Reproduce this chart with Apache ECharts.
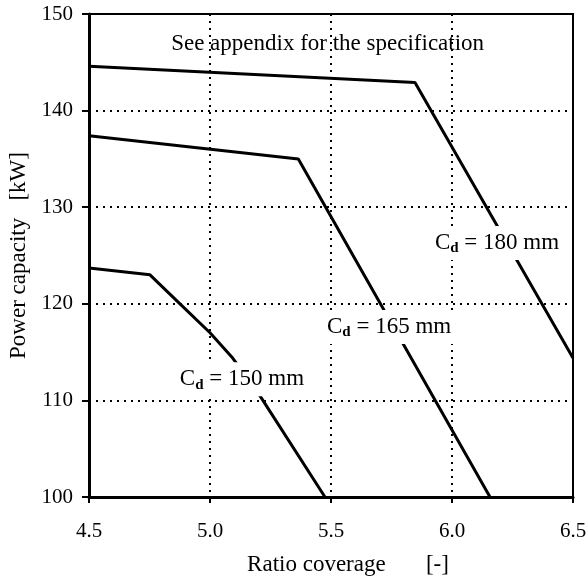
<!DOCTYPE html>
<html>
<head>
<meta charset="utf-8">
<script src="https://cdn.jsdelivr.net/npm/echarts@6/dist/echarts.min.js"></script>
<style>html,body{margin:0;padding:0;background:#fff}#c{width:588px;height:576px}</style>
</head>
<body>
<div id="c"></div>
<script>
// Data
const cd180X = [4.5, 5.847, 6.5];
const cd180Y = [144.6, 142.9, 114.4];
const cd165X = [4.5, 5.365, 6.157];
const cd165Y = [137.4, 135.0, 100];
const cd150X = [4.5, 4.752, 4.876, 5.0, 5.09, 5.198, 5.475];
const cd150Y = [123.7, 123.0, 120.0, 117.0, 114.5, 110.8, 100];
const seriesNames = ['180', '165', '150'];
const labelCoords = [[6.186, 126.3], [5.74, 117.6], [5.132, 112.2]];
const noteText = 'See appendix for the specification';
const noteCoord = [5.486, 146.9];
const xTitle = 'Ratio coverage       [-]';
const yTitle = 'Power capacity   [kW]';

const FONT = 'Liberation Serif';
const zip = (xs, ys) => xs.map((x, i) => [x, ys[i]]);
const rich = {
  c: { fontFamily: FONT, fontSize: 23, color: '#000' },
  s: { fontFamily: FONT, fontSize: 15, color: '#000', fontWeight: 'bold', padding: [11, 0, 0, 0] }
};
function mk(name, xs, ys, lc, extra) {
  const points = [{
    coord: lc, symbol: 'circle', symbolSize: 0,
    label: {
      show: true, position: 'inside',
      formatter: '{c|C}{s|d}{c| = ' + name + ' mm}',
      backgroundColor: '#fff', padding: [4, 3, 4, 3], rich: rich
    }
  }];
  if (extra) points.push(extra);
  return {
    type: 'line', data: zip(xs, ys), showSymbol: false, symbol: 'none',
    lineStyle: { color: '#000', width: 3 }, animation: false,
    markPoint: { silent: true, animation: false, data: points }
  };
}
const chart = echarts.init(document.getElementById('c'), null, { renderer: 'canvas' });
chart.setOption({
  backgroundColor: '#fff',
  animation: false,
  grid: { left: 89, right: 15, top: 14, bottom: 79, show: true, borderColor: '#000', borderWidth: 2, outerBoundsMode: 'none', containLabel: false },
  xAxis: {
    type: 'value', min: 4.5, max: 6.5, interval: 0.5,
    name: xTitle, nameLocation: 'middle', nameGap: 56,
    nameTextStyle: { fontFamily: FONT, fontSize: 23, color: '#000', padding: [0, 0, 0, 34] },
    axisLine: { show: true, onZero: false, lineStyle: { color: '#000', width: 3 } },
    axisTick: { show: true, inside: false, length: 6, lineStyle: { color: '#000', width: 2 } },
    axisLabel: { fontFamily: FONT, fontSize: 21, color: '#000', margin: 24, formatter: v => v.toFixed(1) },
    splitLine: { show: true, lineStyle: { color: '#000', width: 2, type: [2, 5] } }
  },
  yAxis: {
    type: 'value', min: 100, max: 150, interval: 10,
    name: yTitle, nameLocation: 'middle', nameGap: 57, nameRotate: 90,
    nameTextStyle: { fontFamily: FONT, fontSize: 23, color: '#000' },
    axisLine: { show: true, onZero: false, lineStyle: { color: '#000', width: 3 } },
    axisTick: { show: true, inside: false, length: 7, lineStyle: { color: '#000', width: 2 } },
    axisLabel: { fontFamily: FONT, fontSize: 21, color: '#000', margin: 16 },
    splitLine: { show: true, lineStyle: { color: '#000', width: 2, type: [2, 5] } }
  },
  series: [
    mk(seriesNames[0], cd180X, cd180Y, labelCoords[0], {
      coord: noteCoord, symbol: 'circle', symbolSize: 0,
      label: { show: true, position: 'inside', formatter: noteText, fontFamily: FONT, fontSize: 23, color: '#000' }
    }),
    mk(seriesNames[1], cd165X, cd165Y, labelCoords[1]),
    mk(seriesNames[2], cd150X, cd150Y, labelCoords[2])
  ]
});
</script>
</body>
</html>
